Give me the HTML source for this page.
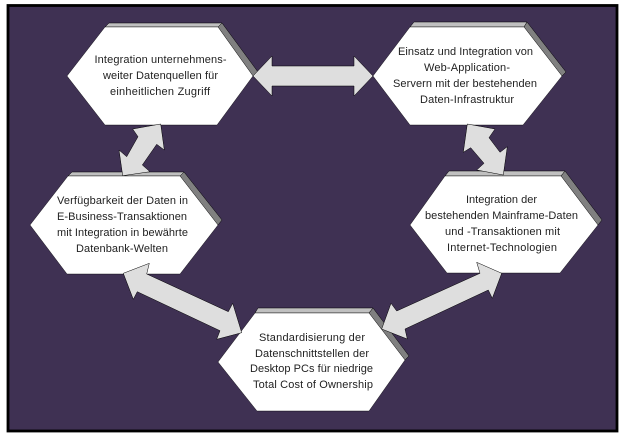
<!DOCTYPE html>
<html>
<head>
<meta charset="utf-8">
<style>
html,body{margin:0;padding:0;background:#fff;width:627px;height:440px;overflow:hidden}
svg{display:block}
text{font-family:"Liberation Sans",Arial,sans-serif;font-size:11px;fill:#222}
.t{fill:#c0c0c0;stroke:#000;stroke-width:.5}
.s{fill:#808080;stroke:#000;stroke-width:.5}
.h{fill:#fff;stroke:#000;stroke-width:.4}
.a{fill:#dedede;stroke:#000;stroke-width:.5}
</style>
</head>
<body>
<svg width="627" height="440" viewBox="0 0 627 440" xmlns="http://www.w3.org/2000/svg">
<rect x="8" y="5.500" width="609" height="425.500" fill="#3f3153" stroke="#000" stroke-width="2.800"/>

<!-- Hexagon 1 -->
<polygon class="t" points="105,27 109,23 222,23 218,27"/>
<polygon class="s" points="218,27 222,23 258,72 253,76"/>
<polygon class="h" points="67,76 105,27 218,27 253,76 217,125 105,125"/>

<!-- Hexagon 2 -->
<polygon class="t" points="410,27 414,22 527,22 524,27"/>
<polygon class="s" points="524,27 527,22 566,72 562,76"/>
<polygon class="h" points="373,76 410,27 524,27 562,76 523,125 410,125"/>

<!-- Hexagon 3 -->
<polygon class="t" points="68,176 72,172 184,172 180,176"/>
<polygon class="s" points="180,176 184,172 222,220 218,225"/>
<polygon class="h" points="30,225 68,176 180,176 218,225 180,274 67,274"/>

<!-- Hexagon 4 -->
<polygon class="t" points="445,176 449,171 565,171 561,176"/>
<polygon class="s" points="561,176 565,171 602,220 598,225"/>
<polygon class="h" points="410,225 445,176 561,176 598,225 560,273 447,273"/>

<!-- Hexagon 5 -->
<polygon class="t" points="255,313 258,308 373,308 369,313"/>
<polygon class="s" points="369,313 373,308 409,356 405,360"/>
<polygon class="h" points="218,362 255,313 369,313 405,360 369,411 257,411"/>

<!-- Arrows -->
<polygon class="a" points="253,76 272,56 272,66 354,66 354,56 373,76 354,96 354,86 272,86 272,96"/>
<polygon class="a" points="160.700,124 132.700,129 138,136.700 126.700,156.700 119,150 122.700,175.700 150,171.700 142.300,165 156.700,144.300 164.300,150"/>
<polygon class="a" points="467.300,124 495,129 489,137.700 500,152.300 507.300,146.700 503.300,175 476.700,170 484,163.300 470.700,147.700 463.300,152.300"/>
<polygon class="a" points="123.300,273.300 149.300,263.300 146.700,274 228.300,311.700 232.700,303.300 241.700,332.700 216.700,339.300 220,330.700 137.300,291.700 133.300,299.300"/>
<polygon class="a" points="501.700,273.300 476.700,262.300 480,273.300 396.700,311 391,303.300 381.700,329 407.300,339 405,329 488.300,290 492.300,298.300"/>

<!-- Labels -->
<text x="94.500" y="63" textLength="132" lengthAdjust="spacing">Integration unternehmens-</text>
<text x="103" y="79" textLength="115" lengthAdjust="spacing">weiter Datenquellen für</text>
<text x="110" y="95" textLength="100" lengthAdjust="spacing">einheitlichen Zugriff</text>

<text x="398" y="55" textLength="135" lengthAdjust="spacing">Einsatz und Integration von</text>
<text x="424" y="71" textLength="86" lengthAdjust="spacing">Web-Application-</text>
<text x="393" y="87" textLength="144" lengthAdjust="spacing">Servern mit der bestehenden</text>
<text x="420" y="103" textLength="94" lengthAdjust="spacing">Daten-Infrastruktur</text>

<text x="57" y="204" textLength="131" lengthAdjust="spacing">Verfügbarkeit der Daten in</text>
<text x="57" y="220" textLength="130" lengthAdjust="spacing">E-Business-Transaktionen</text>
<text x="57" y="236" textLength="131" lengthAdjust="spacing">mit Integration in bewährte</text>
<text x="76" y="252" textLength="92" lengthAdjust="spacing">Datenbank-Welten</text>

<text x="466" y="203" textLength="71" lengthAdjust="spacing">Integration der</text>
<text x="425" y="219" textLength="153" lengthAdjust="spacing">bestehenden Mainframe-Daten</text>
<text x="445" y="235" textLength="115" lengthAdjust="spacing">und -Transaktionen mit</text>
<text x="447" y="251" textLength="110" lengthAdjust="spacing">Internet-Technologien</text>

<text x="259" y="341" textLength="106" lengthAdjust="spacing">Standardisierung der</text>
<text x="255" y="357" textLength="114" lengthAdjust="spacing">Datenschnittstellen der</text>
<text x="250" y="372" textLength="123" lengthAdjust="spacing">Desktop PCs für niedrige</text>
<text x="253" y="388" textLength="120" lengthAdjust="spacing">Total Cost of Ownership</text>
</svg>
</body>
</html>
